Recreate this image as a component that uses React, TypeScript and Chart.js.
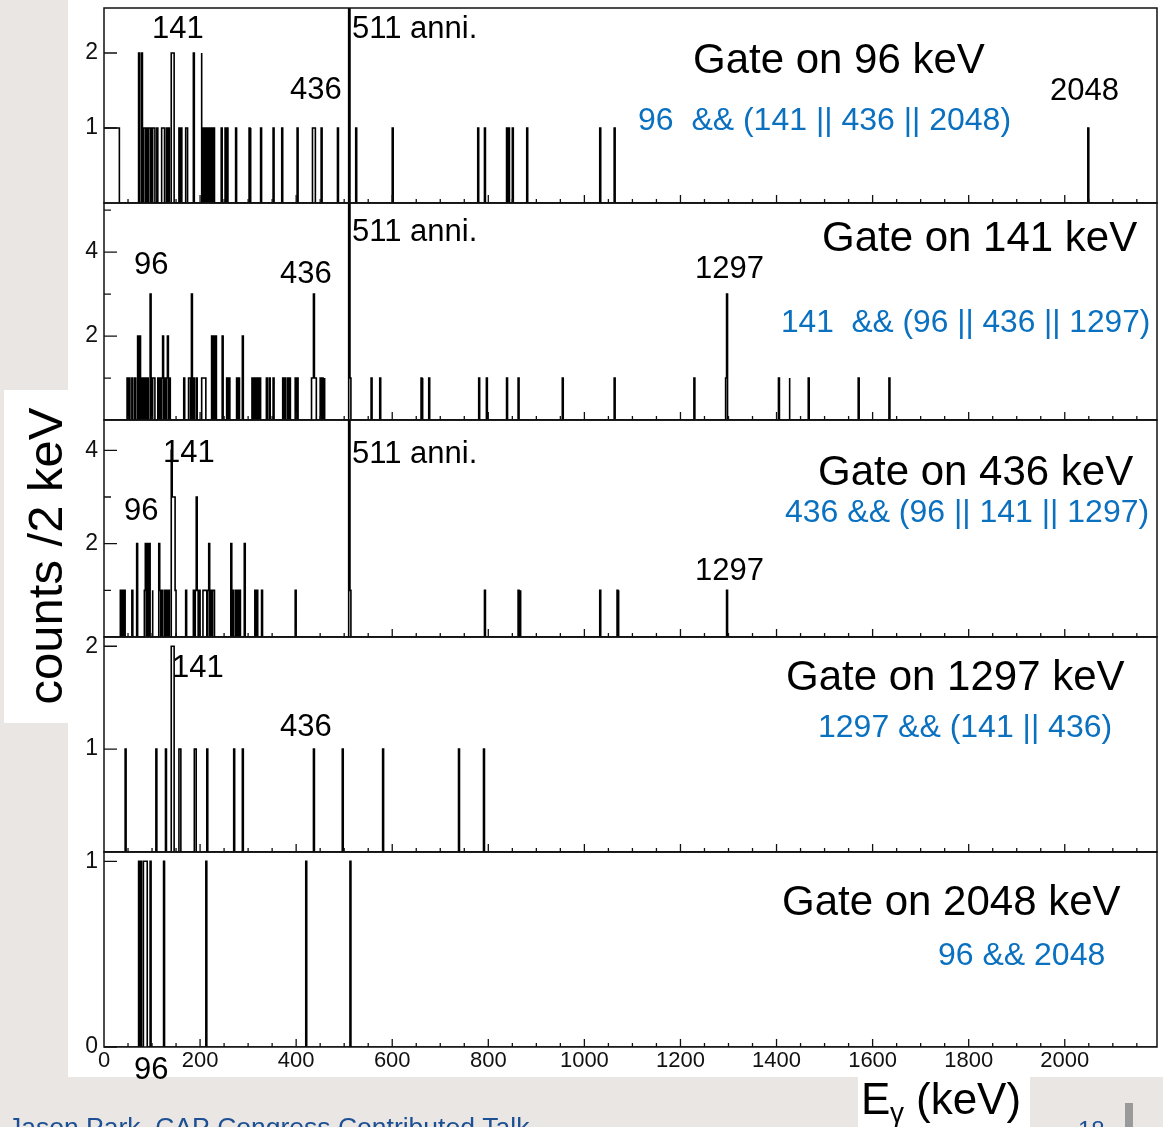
import { useEffect, useRef } from "react";
import { Chart, registerables } from "chart.js";

Chart.register(...registerables);

// Spectra: 2 keV bins, given by lower bin edge (keV) and counts in that bin
const BIN_KEV = 2;
const E_MAX_KEV = 2192;

const gate96Energies = [
  0, 2, 4, 6, 8, 10, 12, 14, 16, 18, 20, 22, 24, 26, 28, 30,
  72, 78, 82, 84, 88, 92, 94, 98, 102, 104, 110,
  120, 122, 124, 130, 134, 140, 142, 144, 156, 160, 170, 172, 186, 202,
  204, 208, 212, 216, 220, 224, 228, 244, 252, 256, 274, 302, 326, 352, 370, 402,
  434, 436, 438, 452, 486, 510, 524, 600,
  778, 792, 838, 842, 850, 880, 1032, 1062, 2048,
];
const gate96Counts = [
  1, 1, 1, 1, 1, 1, 1, 1, 1, 1, 1, 1, 1, 1, 1, 1,
  2, 2, 1, 1, 1, 1, 1, 1, 1, 1, 1,
  1, 1, 1, 1, 1, 2, 2, 2, 1, 1, 1, 1, 2, 2,
  1, 1, 1, 1, 1, 1, 1, 1, 1, 1, 1, 1, 1, 1, 1, 1,
  1, 1, 1, 1, 1, 20, 1, 1,
  1, 1, 1, 1, 1, 1, 1, 1, 1,
];

const gate141Energies = [
  48, 52, 58, 64, 70, 74, 78, 82, 86, 90, 96, 102, 104, 112, 116, 120, 122, 126, 130, 132, 136,
  166, 176, 178, 182, 186, 192, 204, 206, 208, 210, 224, 228, 232, 246, 256, 260, 276, 280, 288,
  308, 312, 316, 320, 324, 338, 344, 352, 372, 376, 382, 386, 398, 402,
  432, 434, 436, 438, 440, 450, 454, 458, 508, 510, 512, 556, 574, 660, 676,
  780, 796, 838, 862, 954, 1062, 1228, 1294, 1296, 1404, 1426, 1466, 1570, 1634,
];
const gate141Counts = [
  1, 1, 1, 1, 2, 2, 1, 1, 1, 1, 3, 1, 1, 1, 1, 1, 2, 1, 1, 2, 1,
  1, 1, 1, 3, 1, 1, 1, 1, 1, 1, 2, 2, 2, 2, 1, 1, 1, 1, 2,
  1, 1, 1, 1, 1, 1, 1, 1, 1, 1, 1, 1, 1, 1,
  1, 1, 3, 1, 1, 1, 1, 1, 3, 20, 1, 1, 1, 1, 1,
  1, 1, 1, 1, 1, 1, 1, 1, 3, 1, 1, 1, 1, 1,
];

const gate436Energies = [
  34, 38, 42, 58, 68, 84, 86, 90, 94, 100, 114, 116, 120, 126, 130, 134,
  140, 142, 144, 146, 148, 170, 186, 190, 192, 194, 198,
  206, 208, 210, 212, 216, 218, 222, 226, 228, 264, 268, 274, 278, 282, 292,
  314, 318, 328, 398, 508, 510, 512, 792, 862, 866, 1032, 1068, 1296,
];
const gate436Counts = [
  1, 1, 1, 1, 2, 1, 2, 2, 2, 1, 2, 1, 1, 1, 1, 1,
  4, 3, 3, 3, 1, 1, 1, 1, 3, 1, 1,
  1, 1, 1, 1, 1, 2, 1, 1, 1, 2, 1, 1, 1, 1, 2,
  1, 1, 1, 1, 2, 20, 1, 1, 1, 1, 1, 1, 1,
];

const gate1297Energies = [44, 108, 128, 140, 142, 144, 156, 158, 188, 190, 214, 270, 288, 436, 496, 580, 738, 790];
const gate1297Counts = [1, 1, 1, 2, 2, 2, 1, 1, 1, 1, 1, 1, 1, 1, 1, 1, 1, 1];

const gate2048Energies = [72, 76, 82, 84, 86, 88, 96, 124, 212, 420, 512];
const gate2048Counts = [1, 1, 1, 1, 1, 1, 1, 1, 1, 1, 1];

// Axis ticks
const energyTickLabels = [0, 200, 400, 600, 800, 1000, 1200, 1400, 1600, 1800, 2000];
const gate96YTicks = [1, 2];
const gate141YTicks = [2, 4];
const gate141YMinor = [1, 3, 5];
const gate436YTicks = [2, 4];
const gate436YMinor = [1, 3];
const gate1297YTicks = [1, 2];
const gate2048YTicks = [0, 1];

// ---- layout ----
const W = 1163;
const H = 1127;
const FRAME_LEFT = 104;
const FRAME_RIGHT = 1157;
const Y_AXIS_W = 40;
const X_AXIS_H = 30;
const FONT = '"Liberation Sans", Arial, Helvetica, sans-serif';
const BLUE = "#0a70c0";
const NAVY = "#1c4f93";
const PAGE_GRAY = "#e9e6e3";

type Label = { text: string; x: number; y: number; size: number; color?: string };
type Panel = {
  energies: number[];
  counts: number[];
  yMax: number;
  yTicks: number[];
  yMinor: number[];
  top: number;
  bottom: number;
  labels: Label[];
};

const PANELS: Panel[] = [
  {
    energies: gate96Energies,
    counts: gate96Counts,
    yMax: 2.6,
    yTicks: gate96YTicks,
    yMinor: [],
    top: 8,
    bottom: 203,
    labels: [
      { text: "141", x: 152, y: 38, size: 31 },
      { text: "511 anni.", x: 352, y: 38, size: 31 },
      { text: "436", x: 290, y: 99, size: 31 },
      { text: "Gate on 96 keV", x: 693, y: 73, size: 42 },
      { text: "2048", x: 1050, y: 100, size: 31 },
      { text: "96  && (141 || 436 || 2048)", x: 638, y: 130, size: 32, color: BLUE },
    ],
  },
  {
    energies: gate141Energies,
    counts: gate141Counts,
    yMax: 5.17,
    yTicks: gate141YTicks,
    yMinor: gate141YMinor,
    top: 203,
    bottom: 420,
    labels: [
      { text: "511 anni.", x: 352, y: 241, size: 31 },
      { text: "96", x: 134, y: 274, size: 31 },
      { text: "436", x: 280, y: 283, size: 31 },
      { text: "Gate on 141 keV", x: 822, y: 251, size: 42 },
      { text: "1297", x: 695, y: 278, size: 31 },
      { text: "141  && (96 || 436 || 1297)", x: 781, y: 332, size: 31.7, color: BLUE },
    ],
  },
  {
    energies: gate436Energies,
    counts: gate436Counts,
    yMax: 4.65,
    yTicks: gate436YTicks,
    yMinor: gate436YMinor,
    top: 420,
    bottom: 637,
    labels: [
      { text: "141", x: 163, y: 462, size: 31 },
      { text: "96", x: 124, y: 520, size: 31 },
      { text: "511 anni.", x: 352, y: 463, size: 31 },
      { text: "Gate on 436 keV", x: 818, y: 485, size: 42 },
      { text: "436 && (96 || 141 || 1297)", x: 785, y: 522, size: 32, color: BLUE },
      { text: "1297", x: 695, y: 580, size: 31 },
    ],
  },
  {
    energies: gate1297Energies,
    counts: gate1297Counts,
    yMax: 2.09,
    yTicks: gate1297YTicks,
    yMinor: [],
    top: 637,
    bottom: 852,
    labels: [
      { text: "141", x: 172, y: 677, size: 31 },
      { text: "436", x: 280, y: 736, size: 31 },
      { text: "Gate on 1297 keV", x: 786, y: 690, size: 42 },
      { text: "1297 && (141 || 436)", x: 818, y: 737, size: 32, color: BLUE },
    ],
  },
  {
    energies: gate2048Energies,
    counts: gate2048Counts,
    yMax: 1.05,
    yTicks: gate2048YTicks,
    yMinor: [],
    top: 852,
    bottom: 1047,
    labels: [
      { text: "Gate on 2048 keV", x: 782, y: 915, size: 42 },
      { text: "96 && 2048", x: 938, y: 965, size: 32, color: BLUE },
      { text: "96", x: 134, y: 1079, size: 31 },
    ],
  },
];

// Step outline of a histogram: every bin contributes its left and right edge at its height
function histogramPoints(energies: number[], counts: number[]) {
  const byBin = new Map<number, number>();
  energies.forEach((e, i) => byBin.set(e, counts[i]));
  const pts: { x: number; y: number }[] = [];
  for (let lo = 0; lo < E_MAX_KEV; lo += BIN_KEV) {
    const c = byBin.get(lo) ?? 0;
    pts.push({ x: lo, y: c }, { x: lo + BIN_KEV, y: c });
  }
  return pts;
}

// Frame, inward ROOT-style ticks and the peak annotations of one panel
function panelDecor(panel: Panel) {
  return {
    id: "panelDecor",
    afterDatasetsDraw(chart: any) {
      const { ctx, chartArea: a } = chart;
      const xs = chart.scales.x;
      const ys = chart.scales.y;
      ctx.save();
      ctx.strokeStyle = "#111";
      ctx.lineWidth = 1.5;
      ctx.strokeRect(a.left, a.top, a.right - a.left, a.bottom - a.top);
      ctx.lineWidth = 1.3;
      ctx.beginPath();
      panel.yTicks.forEach((v) => {
        const y = ys.getPixelForValue(v);
        ctx.moveTo(a.left, y);
        ctx.lineTo(a.left + 13, y);
      });
      panel.yMinor.forEach((v) => {
        const y = ys.getPixelForValue(v);
        ctx.moveTo(a.left, y);
        ctx.lineTo(a.left + 7, y);
      });
      for (let e = 50; e < E_MAX_KEV; e += 50) {
        const x = xs.getPixelForValue(e);
        const len = e % 200 === 0 ? 8 : 4;
        ctx.moveTo(x, a.bottom);
        ctx.lineTo(x, a.bottom - len);
      }
      ctx.stroke();
      ctx.textAlign = "left";
      ctx.textBaseline = "alphabetic";
      panel.labels.forEach((l) => {
        ctx.fillStyle = l.color ?? "#000";
        ctx.font = `${l.size}px ${FONT}`;
        ctx.fillText(l.text, l.x, l.y);
      });
      ctx.restore();
    },
  };
}

// Axis titles and slide footer
const pageDecor = {
  id: "pageDecor",
  afterDraw(chart: any) {
    const ctx = chart.ctx;
    ctx.save();
    ctx.fillStyle = "#000";
    ctx.textBaseline = "alphabetic";
    // y title, rotated
    ctx.save();
    ctx.translate(62, 556);
    ctx.rotate(-Math.PI / 2);
    ctx.textAlign = "center";
    ctx.font = `49px ${FONT}`;
    ctx.fillText("counts /2 keV", 0, 0);
    ctx.restore();
    // x title
    ctx.textAlign = "left";
    ctx.font = `44px ${FONT}`;
    ctx.fillText("E", 861, 1114);
    ctx.font = `28px ${FONT}`;
    ctx.fillText("γ", 890, 1122);
    ctx.font = `44px ${FONT}`;
    ctx.fillText("(keV)", 916, 1114);
    // footer
    ctx.fillStyle = NAVY;
    ctx.font = `26.5px ${FONT}`;
    ctx.fillText("Jason Park, CAP Congress Contributed Talk", 8, 1136);
    ctx.font = `24px ${FONT}`;
    ctx.fillText("18", 1078, 1138);
    ctx.restore();
  },
};

function makeConfig(panel: Panel, isLast: boolean): any {
  return {
    type: "line",
    data: {
      datasets: [
        {
          data: histogramPoints(panel.energies, panel.counts),
          borderColor: "#000",
          borderWidth: 1.6,
          pointRadius: 0,
          fill: false,
          tension: 0,
          borderJoinStyle: "miter",
        },
      ],
    },
    options: {
      responsive: false,
      animation: false,
      events: [],
      layout: {
        padding: {
          left: FRAME_LEFT - Y_AXIS_W,
          right: W - FRAME_RIGHT,
          top: panel.top,
          bottom: H - panel.bottom - (isLast ? X_AXIS_H : 0),
        },
      },
      plugins: {
        legend: { display: false },
        tooltip: { enabled: false },
        title: { display: false },
      },
      scales: {
        x: {
          type: "linear",
          min: 0,
          max: E_MAX_KEV,
          display: isLast,
          grid: { display: false, drawTicks: false },
          border: { display: false },
          afterBuildTicks: (s: any) => {
            s.ticks = energyTickLabels.map((v) => ({ value: v }));
          },
          afterFit: (s: any) => {
            s.height = isLast ? X_AXIS_H : 0;
            s.paddingLeft = 0;
            s.paddingRight = 0;
          },
          ticks: {
            font: { family: FONT, size: 22 },
            color: "#111",
            padding: 1,
            maxRotation: 0,
            autoSkip: false,
            callback: (v: number) => String(v),
          },
        },
        y: {
          type: "linear",
          min: 0,
          max: panel.yMax,
          grid: { display: false, drawTicks: false },
          border: { display: false },
          afterBuildTicks: (s: any) => {
            s.ticks = panel.yTicks.map((v) => ({ value: v }));
          },
          afterFit: (s: any) => {
            s.width = Y_AXIS_W;
            s.paddingTop = 0;
            s.paddingBottom = 0;
          },
          ticks: {
            font: { family: FONT, size: 23 },
            color: "#111",
            padding: 6,
            callback: (v: number) => String(v),
          },
        },
      },
    },
    plugins: isLast ? [panelDecor(panel), pageDecor] : [panelDecor(panel)],
  };
}

export default function App() {
  const canvases = useRef<(HTMLCanvasElement | null)[]>([]);

  useEffect(() => {
    const charts = PANELS.map(
      (p, i) => new Chart(canvases.current[i] as HTMLCanvasElement, makeConfig(p, i === PANELS.length - 1))
    );
    return () => charts.forEach((c) => c.destroy());
  }, []);

  return (
    <div
      style={{
        position: "absolute",
        left: 0,
        top: 0,
        width: W,
        height: H,
        background: PAGE_GRAY,
        overflow: "hidden",
      }}
    >
      <div style={{ position: "absolute", left: 68, top: 0, width: W - 68, height: 1077, background: "#fff" }} />
      <div style={{ position: "absolute", left: 4, top: 390, width: 64, height: 333, background: "#fff" }} />
      <div style={{ position: "absolute", left: 858, top: 1077, width: 172, height: 50, background: "#fff" }} />
      <div style={{ position: "absolute", left: 1125, top: 1103, width: 8, height: 24, background: "#9a9a9a" }} />
      {PANELS.map((_, i) => (
        <canvas
          key={i}
          width={W}
          height={H}
          ref={(el) => {
            canvases.current[i] = el;
          }}
          style={{ position: "absolute", left: 0, top: 0 }}
        />
      ))}
    </div>
  );
}
